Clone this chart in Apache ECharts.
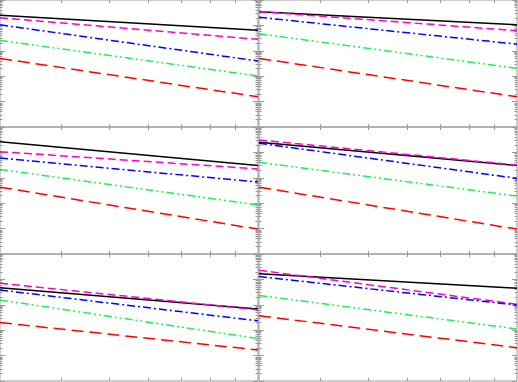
<!DOCTYPE html>
<html>
<head>
<meta charset="utf-8">
<script src="https://cdn.jsdelivr.net/npm/echarts@6/dist/echarts.min.js"></script>
<style>
html, body { margin: 0; padding: 0; background: #fff; }
#chart { width: 518px; height: 382px; }
</style>
</head>
<body>
<div id="chart"></div>
<script>
// x sampling points (log axis 3..10), lines are straight on log-log
var xValues = [3, 10];
var xTicks = [4, 5, 6, 7, 8, 9];
var yMajorTicks = [1e-5, 1e-4, 1e-3, 1e-2, 1e-1, 1];

// values at x=3 and x=10, one pair per panel (row by row, left then right)
var solidBlack = [[0.251, 0.0646], [0.347, 0.105], [0.263, 0.0302], [0.251, 0.0302], [0.0468, 0.00676], [0.166, 0.0447]];
var dashMagenta = [[0.200, 0.0282], [0.350, 0.0617], [0.107, 0.0224], [0.309, 0.0316], [0.0708, 0.00631], [0.229, 0.0105]];
var dashDotBlue = [[0.105, 0.00398], [0.209, 0.0182], [0.0603, 0.00676], [0.229, 0.00955], [0.038, 0.00234], [0.129, 0.00977]];
var dashDotDotGreen = [[0.0257, 0.00102], [0.0468, 0.00204], [0.0214, 0.00085], [0.0407, 0.00191], [0.0155, 0.000468], [0.0234, 0.00112]];
var longDashRed = [[0.00501, 0.000155], [0.00501, 0.000155], [0.00427, 0.0000955], [0.00427, 0.0000955], [0.002, 0.000166], [0.00372, 0.000204]];

// minor ticks 2..9 in every decade
var yMinorTicks = [];
for (var d = 0; d < yMajorTicks.length - 1; d++) {
    for (var m = 2; m <= 9; m++) {
        yMinorTicks.push(m * yMajorTicks[d]);
    }
}

var lineDefs = [
    { data: solidBlack, color: '#000000', type: 'solid' },
    { data: dashMagenta, color: '#ff00cc', type: [8, 4] },
    { data: dashDotBlue, color: '#0000ff', type: [8, 3, 2, 3] },
    { data: dashDotDotGreen, color: '#22ee55', type: [8, 3, 2, 3, 2, 3] },
    { data: longDashRed, color: '#ff0000', type: [12, 6] }
];

var axisGray = '#999999';
var colLeft = [0, 259];
var rowTop = [0, 127, 254];

var grids = [], xAxes = [], yAxes = [], series = [];

function tickAxis(extra) {
    var ax = {
        axisLine: { show: false },
        axisLabel: { show: false },
        splitLine: { show: false },
        axisTick: { show: true, inside: true, lineStyle: { color: axisGray } }
    };
    for (var k in extra) ax[k] = extra[k];
    return ax;
}

for (var i = 0; i < 6; i++) {
    var r = Math.floor(i / 2), c = i % 2;
    grids.push({
        left: colLeft[c], top: rowTop[r], width: 258, height: 127,
        show: true, borderColor: axisGray, borderWidth: 1, backgroundColor: 'transparent'
    });

    ['bottom', 'top'].forEach(function (pos) {
        var ax = tickAxis({ type: 'log', gridIndex: i, position: pos, min: 3, max: 10 });
        ax.axisTick.length = 3;
        ax.axisTick.customValues = xTicks;
        xAxes.push(ax);
    });

    ['left', 'right'].forEach(function (pos) {
        var major = tickAxis({ type: 'log', gridIndex: i, position: pos, min: 1e-5, max: 1 });
        major.axisTick.length = 5;
        major.axisTick.customValues = yMajorTicks;
        yAxes.push(major);
        var minor = tickAxis({ type: 'log', gridIndex: i, position: pos, min: 1e-5, max: 1 });
        minor.axisTick.length = 2.5;
        minor.axisTick.customValues = yMinorTicks;
        yAxes.push(minor);
    });

    lineDefs.forEach(function (def) {
        series.push({
            type: 'line',
            xAxisIndex: 2 * i,
            yAxisIndex: 4 * i,
            symbol: 'none',
            silent: true,
            data: xValues.map(function (x, k) { return [x, def.data[i][k]]; }),
            lineStyle: { color: def.color, width: 1.5, type: def.type }
        });
    });
}

var myChart = echarts.init(document.getElementById('chart'));
myChart.setOption({
    animation: false,
    backgroundColor: '#ffffff',
    grid: grids,
    xAxis: xAxes,
    yAxis: yAxes,
    series: series
});
</script>
</body>
</html>
